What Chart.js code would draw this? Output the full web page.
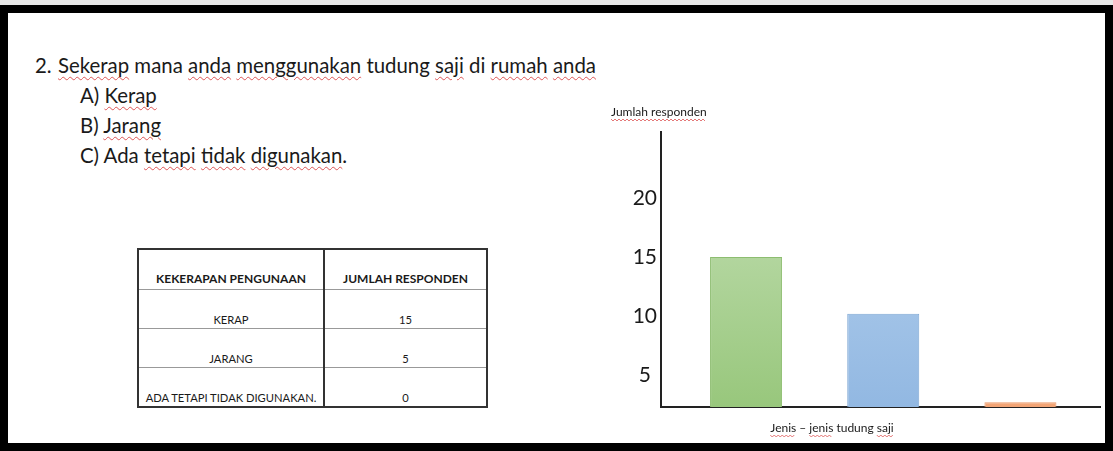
<!DOCTYPE html>
<html>
<head>
    <title>Tudung saji</title>
    <script src="https://cdn.jsdelivr.net/npm/chart.js"></script>
    <style>
        body {
            margin: 0;
            width: 1113px;
            height: 451px;
            background: #e8e8e8;
            font-family: Lato, "Open Sans", sans-serif;
            color: #1a1a1a;
            overflow: hidden;
        }

        .frame {
            position: absolute;
            left: 0;
            top: 5px;
            width: 1097px;
            height: 430px;
            border: 8px solid #000;
            background: #fff;
        }

        .txt {
            position: absolute;
            font-size: 20.4px;
            line-height: 24px;
            white-space: nowrap;
        }

        .sp {
            text-decoration: underline wavy #d55;
            text-decoration-thickness: 1px;
            text-underline-offset: 3px;
        }

        table {
            position: absolute;
            left: 137px;
            top: 248px;
            width: 351px;
            border-collapse: collapse;
            border: 2px solid #333;
        }

        td {
            text-align: center;
            vertical-align: bottom;
            padding: 0 0 2px 0;
            font-size: 11.2px;
            border-top: 1px solid #999;
        }

        td:first-child {
            width: 184px;
            border-right: 2px solid #333;
        }

        tr.head td {
            font-weight: bold;
            font-size: 12px;
            height: 36px;
            padding-bottom: 3px;
        }

        tr.body td {
            height: 36px;
        }

        .chart-box {
            position: absolute;
            left: 600px;
            top: 100px;
            width: 510px;
            height: 345px;
        }
    </style>
</head>
<body>
    <div class="frame"></div>

    <div class="txt" style="left:35px; top:53px;">2.</div>
    <div class="txt" style="left:58px; top:53px;"><span class="sp">Sekerap</span> mana <span class="sp">anda</span> <span class="sp">menggunakan</span> tudung <span class="sp">saji</span> di <span class="sp">rumah</span> <span class="sp">anda</span></div>
    <div class="txt" style="left:80px; top:83px;">A) <span class="sp">Kerap</span></div>
    <div class="txt" style="left:80px; top:113px;">B) <span class="sp">Jarang</span></div>
    <div class="txt" style="left:80px; top:143px;">C) Ada <span class="sp">tetapi</span> <span class="sp">tidak</span> <span class="sp">digunakan</span>.</div>

    <table>
        <tr class="head"><td>KEKERAPAN PENGUNAAN</td><td>JUMLAH RESPONDEN</td></tr>
        <tr class="body"><td>KERAP</td><td>15</td></tr>
        <tr class="body"><td>JARANG</td><td>5</td></tr>
        <tr class="body"><td>ADA TETAPI TIDAK DIGUNAKAN.</td><td>0</td></tr>
    </table>

    <div class="chart-box">
        <canvas id="barChart"></canvas>
    </div>
<script>
    // values (the bars do not follow the table)
    const categories = ['Kerap', 'Jarang', 'Ada tetapi tidak digunakan'];
    const responden = [15, 10.2, 2.7];
    const barTop = ['#b3d69f', '#aac9ea', '#f6b48c'];
    const barBottom = ['#98c77c', '#92b8e2', '#f2a475'];
    const barBorders = ['#8dbd70', '#7fa8d4', '#ea9a6a'];
    const yTicks = [5, 10, 15, 20];
    const xPositions = categories.map((c, i) => i + 1);

    const yTitle = 'Jumlah responden';
    const xTitle = 'Jenis \u2013 jenis tudung saji';

    function barFill(context) {
        const i = context.dataIndex;
        const area = context.chart.chartArea;
        if (!area) return barBottom[i];
        const g = context.chart.ctx.createLinearGradient(0, area.top + 120, 0, area.bottom);
        g.addColorStop(0, barTop[i]);
        g.addColorStop(1, barBottom[i]);
        return g;
    }

    // axis captions sit above / below the plot like in the document
    const captions = {
        id: 'captions',
        afterDraw(chart) {
            const ctx = chart.ctx;
            const area = chart.chartArea;
            ctx.save();
            ctx.fillStyle = '#1a1a1a';
            ctx.font = '12px Lato, "Open Sans", sans-serif';
            ctx.textBaseline = 'middle';

            ctx.textAlign = 'left';
            ctx.fillText(yTitle, area.left - 50, area.top - 20);
            ctx.textAlign = 'center';
            ctx.fillText(xTitle, area.left + 171, area.bottom + 21);

            // spell-check squiggles
            ctx.strokeStyle = '#d55';
            ctx.lineWidth = 0.8;
            const squiggle = (x0, x1, y) => {
                ctx.beginPath();
                for (let x = x0, i = 0; x <= x1; x += 2, i++) {
                    const yy = y + (i % 2 ? 1 : -1);
                    if (i === 0) ctx.moveTo(x, yy); else ctx.lineTo(x, yy);
                }
                ctx.stroke();
            };
            const w1 = ctx.measureText(yTitle).width;
            squiggle(area.left - 50, area.left - 50 + w1, area.top - 12);
            const w2 = ctx.measureText(xTitle).width;
            const x2 = area.left + 171 - w2 / 2;
            squiggle(x2, x2 + ctx.measureText('Jenis').width, area.bottom + 29);
            const jx = x2 + ctx.measureText('Jenis \u2013 ').width;
            squiggle(jx, jx + ctx.measureText('jenis').width, area.bottom + 29);
            const sx = x2 + w2 - ctx.measureText('saji').width;
            squiggle(sx, x2 + w2, area.bottom + 29);
            ctx.restore();
        }
    };

    new Chart(document.getElementById('barChart').getContext('2d'), {
        type: 'bar',
        data: {
            labels: categories,
            datasets: [{
                label: yTitle,
                data: responden.map((v, i) => ({ x: xPositions[i], y: v })),
                backgroundColor: barFill,
                borderColor: barBorders,
                borderWidth: 1,
                borderSkipped: false,
                barPercentage: 0.525,
                categoryPercentage: 1
            }]
        },
        options: {
            responsive: true,
            maintainAspectRatio: false,
            animation: false,
            layout: { padding: { top: 32, right: 10, bottom: 38, left: 0 } },
            plugins: {
                legend: { display: false },
                tooltip: {
                    callbacks: { title: items => categories[items[0].dataIndex] }
                }
            },
            scales: {
                x: {
                    type: 'linear',
                    offset: false,
                    min: 0.38,
                    max: 3.58,
                    grid: { display: false },
                    ticks: { display: false },
                    border: { display: true, color: '#222', width: 2 },
                    afterBuildTicks: axis => { axis.ticks = xPositions.map(v => ({ value: v })); },
                    afterFit: scale => { scale.height = 0; }
                },
                y: {
                    min: 2.3,
                    max: 25.6,
                    grid: { display: false, drawTicks: false },
                    border: { display: true, color: '#222', width: 2 },
                    afterBuildTicks: axis => { axis.ticks = yTicks.map(v => ({ value: v })); },
                    afterFit: scale => { scale.width = 61; },
                    ticks: {
                        crossAlign: 'center',
                        padding: 4,
                        color: '#1a1a1a',
                        font: { family: 'Lato, "Open Sans", sans-serif', size: 21 }
                    }
                }
            }
        },
        plugins: [captions]
    });
</script>
</body>
</html>
